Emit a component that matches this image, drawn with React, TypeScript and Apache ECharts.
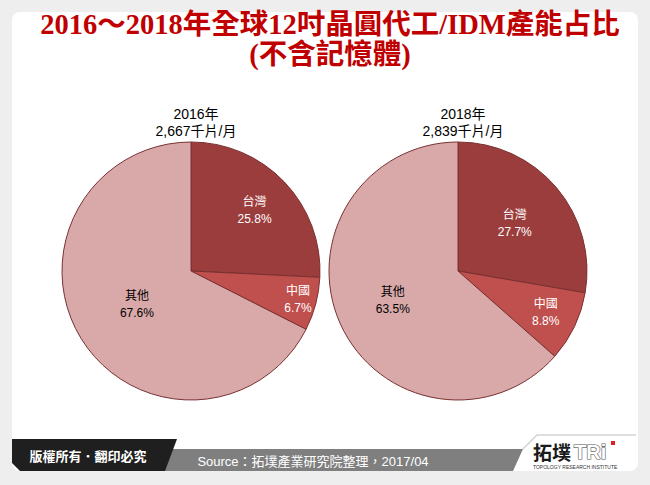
import React, { useEffect, useRef } from "react";
import * as echarts from "echarts";

const titleLine1 = "2016～2018年全球12吋晶圓代工/IDM產能占比";
const titleLine2 = "(不含記憶體)";
const years = ["2016年", "2018年"];
const capacities = ["2,667千片/月", "2,839千片/月"];
const categories = ["台灣", "中國", "其他"];
const values2016 = [25.8, 6.7, 67.6];
const values2018 = [27.7, 8.8, 63.5];
const copyrightText = "版權所有．翻印必究";
const sourceText = "Source：拓墣產業研究院整理，2017/04";

const sliceColors = ["#9b3d3d", "#c0504d", "#d9a9a9"];
const labelColors = ["#ffffff", "#ffffff", "#000000"];
const pieCenters = [
  [191, 271],
  [458, 271],
];
const labelRadiusRatio = [
  [0.65, 0.82, 0.47],
  [0.55, 0.72, 0.53],
];

export default function App() {
  const ref = useRef<HTMLDivElement>(null);
  useEffect(() => {
    document.body.style.margin = "0";
    const chart = echarts.init(ref.current!, null, { renderer: "svg" });
    const sansFont = "'Liberation Sans', Arial, 'Noto Sans CJK TC', sans-serif";
    const makeData = (vals: number[]) =>
      vals.map((v, i) => ({
        name: categories[i],
        value: v,
        itemStyle: { color: sliceColors[i] },
        label: { color: labelColors[i] },
      }));
    const makeSeries = (vals: number[], idx: number) => ({
      type: "pie",
      center: pieCenters[idx],
      radius: 129,
      startAngle: 90,
      clockwise: true,
      silent: true,
      itemStyle: { borderColor: "#7a3030", borderWidth: 1 },
      label: {
        show: true,
        position: "inside",
        formatter: (p: any) => `${p.name}\n${p.value}%`,
        fontSize: 12,
        lineHeight: 17,
        fontFamily: sansFont,
        textBorderWidth: 0,
      },
      labelLine: { show: false },
      emphasis: { disabled: true },
      labelLayout: (params: any) => {
        const d = params.dataIndex;
        const c = pieCenters[idx];
        const r = params.labelRect;
        const lx = r.x + r.width / 2;
        const ly = r.y + r.height / 2;
        const f = labelRadiusRatio[idx][d] / 0.5 - 1;
        return { dx: (lx - c[0]) * f, dy: (ly - c[1]) * f };
      },
      data: makeData(vals),
    });

    chart.setOption({
      animation: false,
      backgroundColor: "#eeeeee",
      title: [
        {
          text: titleLine1 + "\n" + titleLine2,
          left: 325,
          top: 4,
          textAlign: "center",
          textStyle: {
            fontFamily: "'Liberation Serif', 'Times New Roman', 'Noto Sans CJK TC', serif",
            fontWeight: "bold",
            fontSize: 28.5,
            lineHeight: 30,
            color: "#c00000",
          },
        },
        ...years.map((y, i) => ({
          text: y + "\n" + capacities[i],
          left: pieCenters[i][0],
          top: 100,
          textAlign: "center",
          textStyle: {
            fontFamily: sansFont,
            fontWeight: "normal",
            fontSize: 14,
            lineHeight: 17,
            color: "#000000",
          },
        })),
      ],
      graphic: [
        {
          type: "rect",
          z: -10,
          shape: { x: 12, y: 12, width: 626, height: 459, r: 8 },
          style: { fill: "#ffffff" },
        },
        {
          type: "polygon",
          z: -5,
          shape: { points: [[160, 449], [523, 449], [513, 471], [160, 471]] },
          style: { fill: "#7f7f7f" },
        },
        {
          type: "polygon",
          z: -4,
          shape: { points: [[12, 439], [177, 439], [165, 471], [20, 471], [12, 463]] },
          style: { fill: "#1f1f1f" },
        },
        {
          type: "polyline",
          z: -5,
          shape: { points: [[523, 449], [537, 435], [636, 435]] },
          style: { stroke: "#d4d4d4", lineWidth: 1.5, fill: null },
        },
        {
          type: "text",
          x: 88,
          y: 455,
          style: {
            text: copyrightText,
            fill: "#ffffff",
            font: "bold 13px 'Noto Sans CJK TC', sans-serif",
            textAlign: "center",
            textVerticalAlign: "middle",
          },
        },
        {
          type: "text",
          x: 313,
          y: 461,
          style: {
            text: sourceText,
            fill: "#ffffff",
            font: "13px 'Liberation Sans', 'Noto Sans CJK TC', sans-serif",
            textAlign: "center",
            textVerticalAlign: "middle",
          },
        },
        {
          type: "text",
          x: 533,
          y: 451,
          style: {
            text: "拓墣",
            fill: "#1a1a1a",
            font: "bold 19px 'Noto Sans CJK TC', sans-serif",
            textAlign: "left",
            textVerticalAlign: "middle",
          },
        },
        {
          type: "text",
          x: 574,
          y: 452,
          style: {
            text: "TRi",
            fill: "#ffffff",
            stroke: "#555555",
            lineWidth: 1.2,
            font: "bold 20px 'Liberation Sans', sans-serif",
            textAlign: "left",
            textVerticalAlign: "middle",
          },
        },
        {
          type: "rect",
          shape: { x: 611, y: 441, width: 4, height: 4 },
          style: { fill: "#e02020" },
        },
        {
          type: "text",
          x: 533,
          y: 467,
          style: {
            text: "TOPOLOGY RESEARCH INSTITUTE",
            fill: "#333333",
            font: "5px 'Liberation Sans', sans-serif",
            textAlign: "left",
            textVerticalAlign: "middle",
          },
        },
      ],
      series: [makeSeries(values2016, 0), makeSeries(values2018, 1)],
    } as any);
    return () => chart.dispose();
  }, []);
  return <div ref={ref} style={{ width: 650, height: 485 }} />;
}
